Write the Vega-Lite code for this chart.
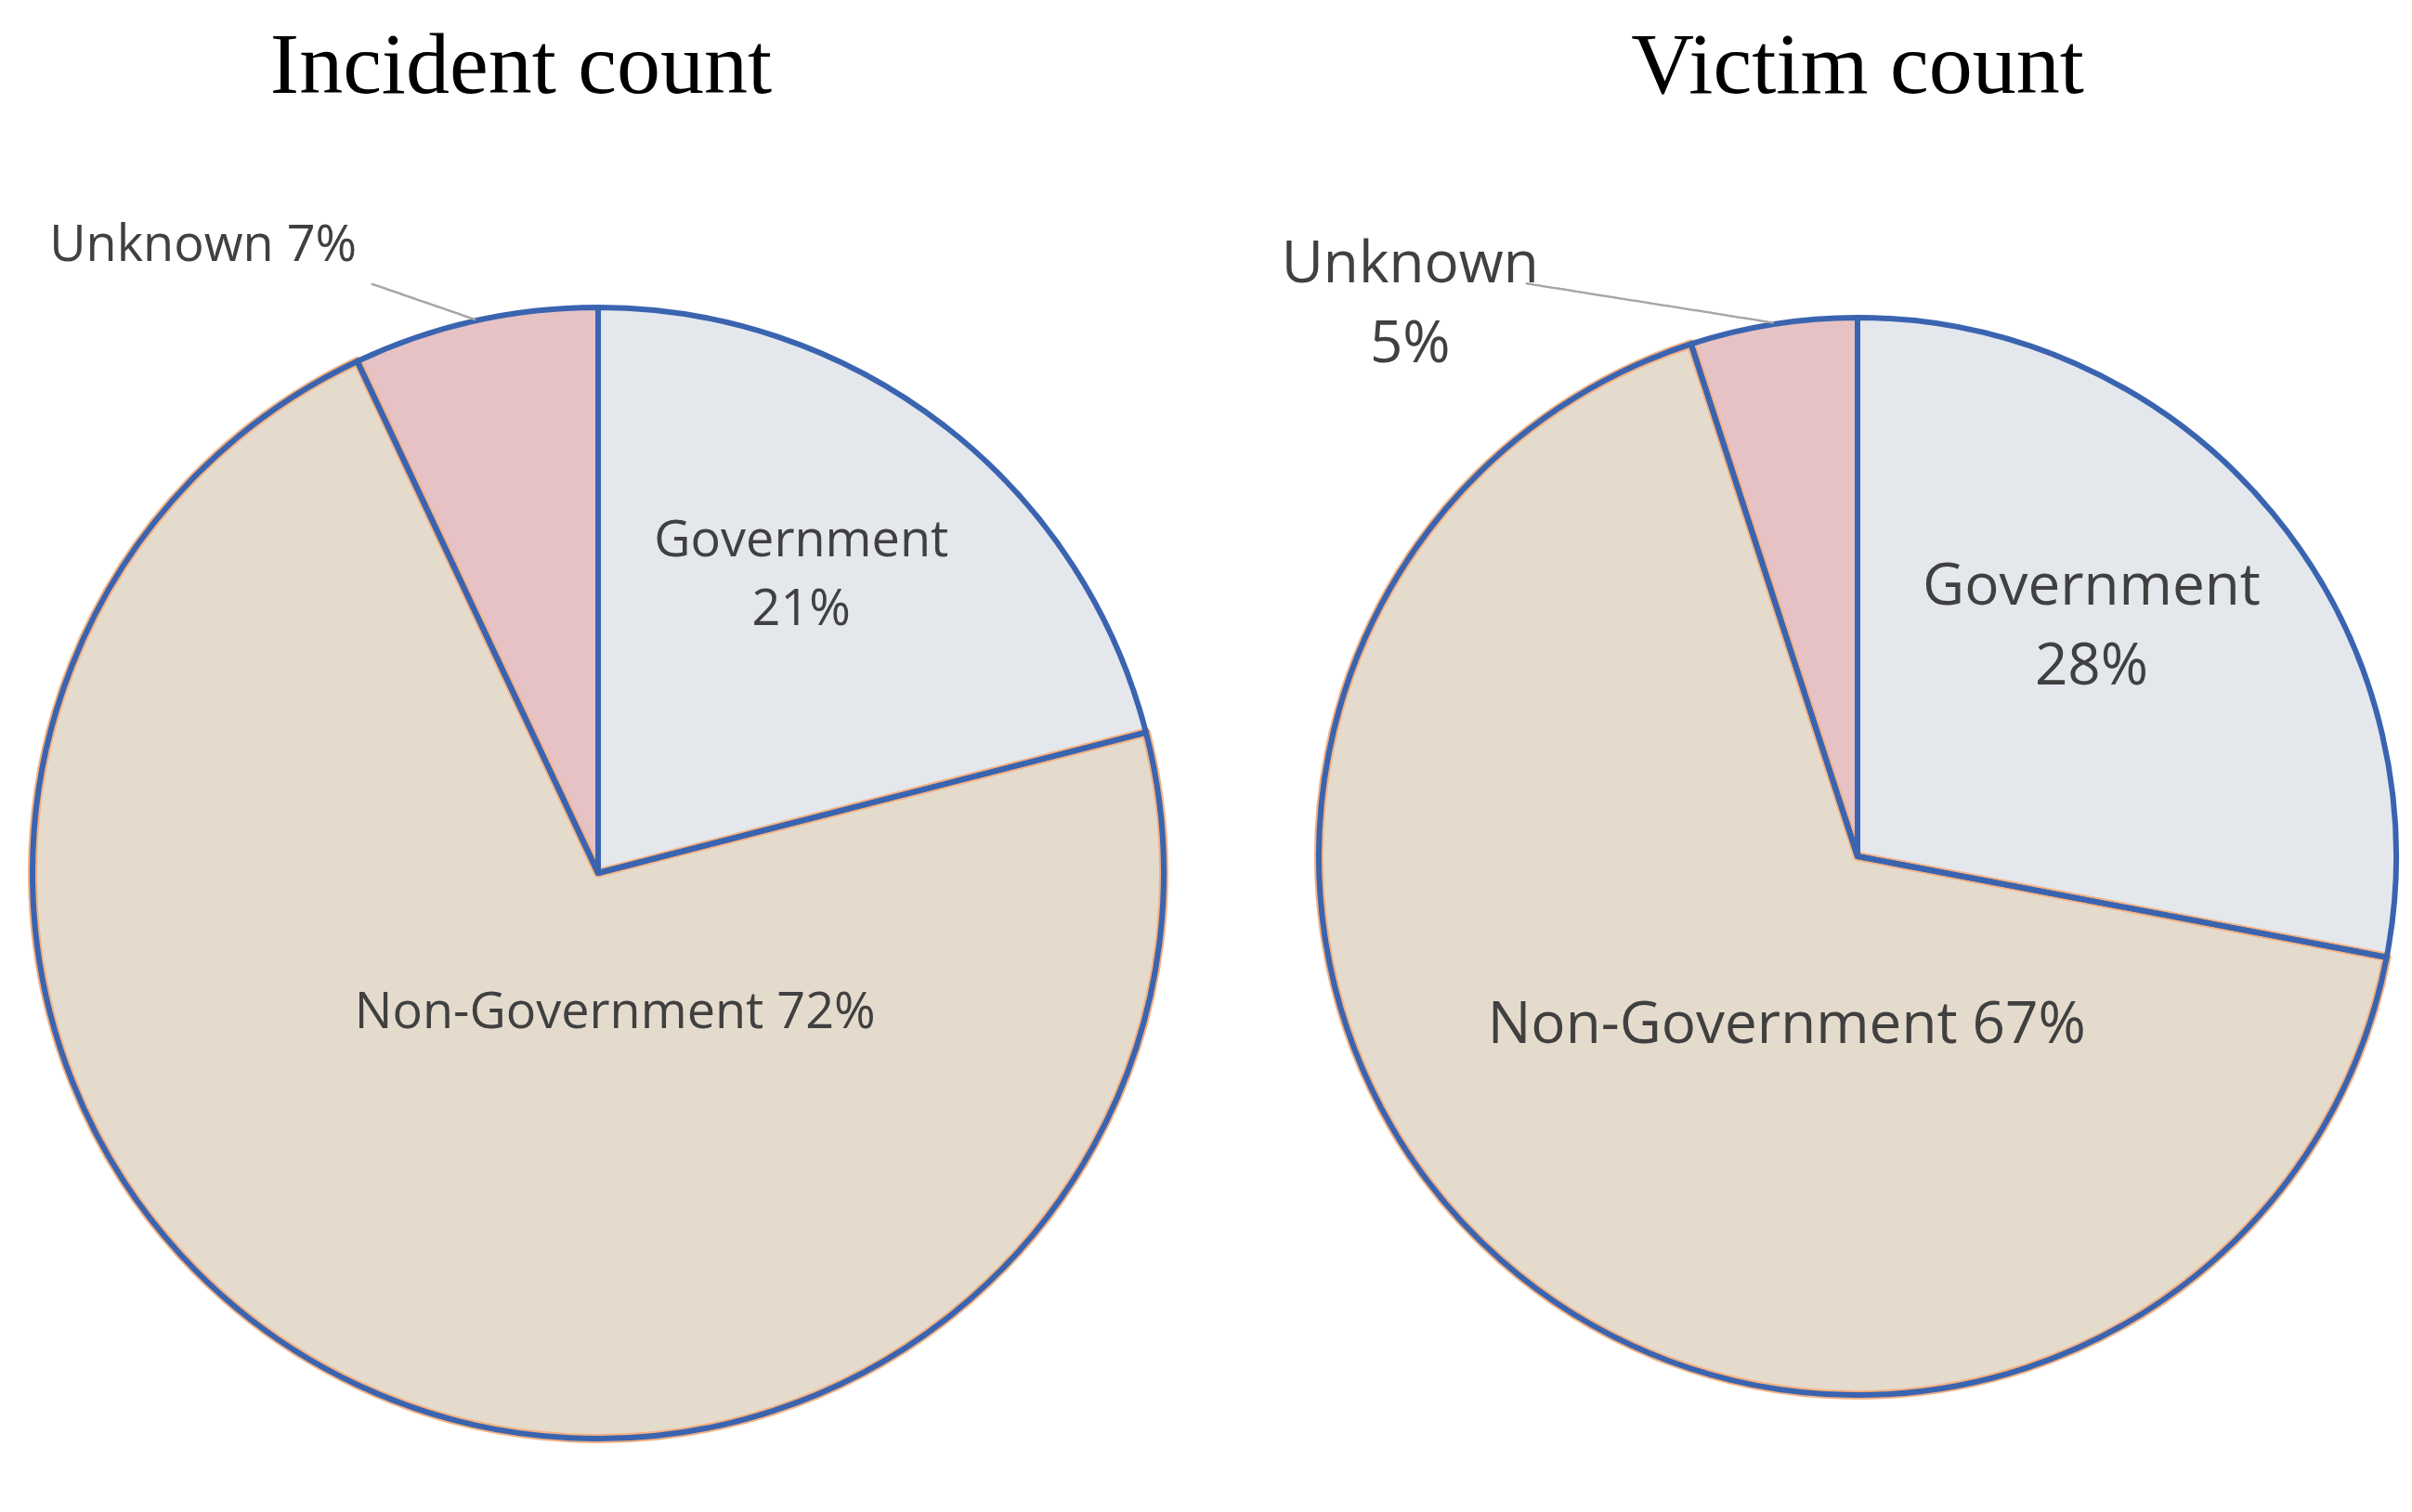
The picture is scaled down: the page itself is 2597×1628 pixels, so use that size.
{
  "$schema": "https://vega.github.io/schema/vega-lite/v6.json",
  "background": "white",
  "padding": {"left": 30, "top": 24, "right": 10, "bottom": 10},
  "bounds": "flush",
  "config": {
    "view": {"stroke": null},
    "concat": {"spacing": 167},
    "title": {"font": "Liberation Serif", "fontSize": 94, "fontWeight": "normal", "color": "#000000", "baseline": "alphabetic"}
  },
  "data": {"values": [
    {"pie": "Incident count", "category": "Government", "value": 21, "label": "Government\n21%"},
    {"pie": "Incident count", "category": "Non-Government", "value": 72, "label": "Non-Government 72%"},
    {"pie": "Incident count", "category": "Unknown", "value": 7, "label": "Unknown 7%"},
    {"pie": "Victim count", "category": "Government", "value": 28, "label": "Government\n28%"},
    {"pie": "Victim count", "category": "Non-Government", "value": 67, "label": "Non-Government 67%"},
    {"pie": "Victim count", "category": "Unknown", "value": 5, "label": "Unknown\n5%"}
  ]},
  "hconcat": [
    {
      "title": {"text": "Incident count", "dx": -83, "offset": 118},
      "width": 1218,
      "height": 1218,
      "transform": [{"filter": "datum.pie === 'Incident count'"}],
      "encoding": {"theta": {"field": "value", "type": "quantitative", "stack": true}},
      "layer": [
        {
          "mark": {"type": "arc", "strokeWidth": 0},
          "encoding": {
            "fill": {"field": "category", "type": "nominal", "scale": {"domain": ["Government", "Non-Government", "Unknown"], "range": ["#E4E7EC", "#E4DBCD", "#E6C2C4"]}, "legend": null}
          }
        },
        {
          "mark": {"type": "arc", "fill": "transparent", "strokeWidth": 10, "strokeJoin": "round"},
          "encoding": {
            "stroke": {"condition": {"test": "datum.category === 'Non-Government'", "value": "#F4B183"}, "value": "transparent"}
          }
        },
        {
          "mark": {"type": "arc", "fill": "transparent", "stroke": "#3A64B0", "strokeWidth": 6, "strokeJoin": "round"}
        },
        {
          "mark": {"type": "text", "font": "Open Sans", "fontSize": 54, "fill": "#404040", "radius": 388, "dx": -19, "dy": -50, "align": "center", "baseline": "middle", "lineBreak": "\n", "lineHeight": 74},
          "encoding": {"text": {"condition": {"test": "datum.category === 'Government'", "field": "label", "type": "nominal"}, "value": ""}}
        },
        {
          "mark": {"type": "text", "font": "Open Sans", "fontSize": 54, "fill": "#404040", "radius": 152, "dx": 83, "dy": 13, "align": "center", "baseline": "middle"},
          "encoding": {"text": {"condition": {"test": "datum.category === 'Non-Government'", "field": "label", "type": "nominal"}, "value": ""}}
        },
        {
          "mark": {"type": "text", "font": "Open Sans", "fontSize": 54, "fill": "#404040", "radius": 609, "dx": -127, "dy": -81, "align": "right", "baseline": "middle"},
          "encoding": {"text": {"condition": {"test": "datum.category === 'Unknown'", "field": "label", "type": "nominal"}, "value": ""}}
        },
        {
          "mark": {"type": "text", "font": "DejaVu Sans Mono", "fontSize": 28, "fill": "#A6A6A6", "radius": 609, "angle": 19, "align": "right", "baseline": "middle"},
          "encoding": {"text": {"condition": {"test": "datum.category === 'Unknown'", "value": "───────"}, "value": ""}}
        }
      ]
    },
    {
      "title": {"text": "Victim count", "offset": 134},
      "width": 1160,
      "height": 1182,
      "transform": [{"filter": "datum.pie === 'Victim count'"}],
      "encoding": {"theta": {"field": "value", "type": "quantitative", "stack": true}},
      "layer": [
        {
          "mark": {"type": "arc", "strokeWidth": 0},
          "encoding": {
            "fill": {"field": "category", "type": "nominal", "scale": {"domain": ["Government", "Non-Government", "Unknown"], "range": ["#E4E7EC", "#E4DBCD", "#E6C2C4"]}, "legend": null}
          }
        },
        {
          "mark": {"type": "arc", "fill": "transparent", "strokeWidth": 10, "strokeJoin": "round"},
          "encoding": {
            "stroke": {"condition": {"test": "datum.category === 'Non-Government'", "value": "#F4B183"}, "value": "transparent"}
          }
        },
        {
          "mark": {"type": "arc", "fill": "transparent", "stroke": "#3A64B0", "strokeWidth": 6, "strokeJoin": "round"}
        },
        {
          "mark": {"type": "text", "font": "Open Sans", "fontSize": 62, "fill": "#404040", "radius": 353, "dx": -20, "dy": -65, "align": "center", "baseline": "middle", "lineBreak": "\n", "lineHeight": 86},
          "encoding": {"text": {"condition": {"test": "datum.category === 'Government'", "field": "label", "type": "nominal"}, "value": ""}}
        },
        {
          "mark": {"type": "text", "font": "Open Sans", "fontSize": 62, "fill": "#404040", "radius": 197, "dx": 54, "dy": 34, "align": "center", "baseline": "middle"},
          "encoding": {"text": {"condition": {"test": "datum.category === 'Non-Government'", "field": "label", "type": "nominal"}, "value": ""}}
        },
        {
          "mark": {"type": "text", "font": "Open Sans", "fontSize": 62, "fill": "#404040", "radius": 580, "dx": -391, "dy": -64, "align": "center", "baseline": "middle", "lineBreak": "\n", "lineHeight": 86},
          "encoding": {"text": {"condition": {"test": "datum.category === 'Unknown'", "field": "label", "type": "nominal"}, "value": ""}}
        },
        {
          "mark": {"type": "text", "font": "DejaVu Sans Mono", "fontSize": 28, "fill": "#A6A6A6", "radius": 580, "angle": 9, "align": "right", "baseline": "middle"},
          "encoding": {"text": {"condition": {"test": "datum.category === 'Unknown'", "value": "────────────────"}, "value": ""}}
        }
      ]
    }
  ]
}
